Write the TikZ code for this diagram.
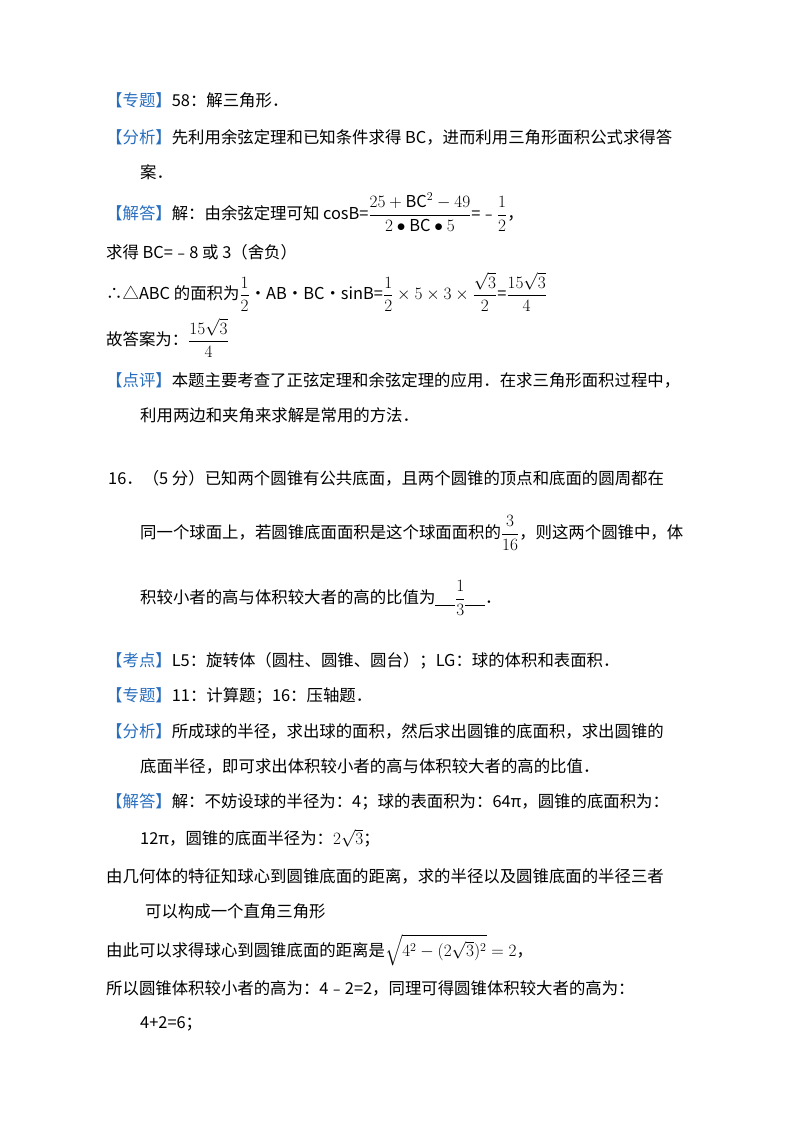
\documentclass[tikz,border=0pt]{standalone}
\usepackage{amsmath}
\usepackage{fontspec}
\setmainfont{Noto Sans CJK SC}
\definecolor{tagblue}{RGB}{40,110,190}
\newcommand\tg[1]{\textcolor{tagblue}{【#1】}}
\newcommand\blankline{\rule[-2pt]{1.2em}{0.6pt}}
\begin{document}
\begin{tikzpicture}[x=1pt,y=-1pt,every node/.style={anchor=west,inner sep=0pt,font=\fontsize{16.4}{19}\selectfont}]
\useasboundingbox (0,0) rectangle (800,1132);
\node (l1) at (106,100) {\tg{专题}58：解三角形．};
\node (l2) at (106,137) {\tg{分析}先利用余弦定理和已知条件求得 BC，进而利用三角形面积公式求得答};
\node (l3) at (140,172) {案．};
\node (l4) at (106,212) {\tg{解答}解：由余弦定理可知 cosB=$\dfrac{25+\mathrm{BC}^2-49}{2\bullet \mathrm{BC}\bullet 5}$=﹣$\dfrac{1}{2}$，};
\node (l5) at (106,252) {求得 BC=﹣8 或 3（舍负）};
\node (l6) at (106,292) {∴△ABC 的面积为$\dfrac12$•AB•BC•sinB=$\dfrac12\times5\times3\times\dfrac{\sqrt3}{2}$=$\dfrac{15\sqrt3}{4}$};
\node (l7) at (106,338) {故答案为：$\dfrac{15\sqrt3}{4}$};
\node (l8) at (106,380) {\tg{点评}本题主要考查了正弦定理和余弦定理的应用．在求三角形面积过程中，};
\node (l9) at (140,415) {利用两边和夹角来求解是常用的方法．};
\node (l10) at (108,478) {16．（5 分）已知两个圆锥有公共底面，且两个圆锥的顶点和底面的圆周都在};
\node (l11) at (140,533) {同一个球面上，若圆锥底面面积是这个球面面积的$\dfrac{3}{16}$，则这两个圆锥中，体};
\node (l12) at (140,598) {积较小者的高与体积较大者的高的比值为\blankline$\dfrac13$\blankline．};
\node (l13) at (106,661) {\tg{考点}L5：旋转体（圆柱、圆锥、圆台）；LG：球的体积和表面积．};
\node (l14) at (106,696) {\tg{专题}11：计算题；16：压轴题．};
\node (l15) at (106,731) {\tg{分析}所成球的半径，求出球的面积，然后求出圆锥的底面积，求出圆锥的};
\node (l16) at (140,766) {底面半径，即可求出体积较小者的高与体积较大者的高的比值．};
\node (l17) at (106,802) {\tg{解答}解：不妨设球的半径为：4；球的表面积为：64π，圆锥的底面积为：};
\node (l18) at (140,838) {12π，圆锥的底面半径为：$2\sqrt3$；};
\node (l19) at (106,876) {由几何体的特征知球心到圆锥底面的距离，求的半径以及圆锥底面的半径三者};
\node (l20) at (145,911) {可以构成一个直角三角形};
\node (l21) at (106,950) {由此可以求得球心到圆锥底面的距离是$\sqrt{4^2-(2\sqrt3)^2}=2$，};
\node (l22) at (106,988) {所以圆锥体积较小者的高为：4﹣2=2，同理可得圆锥体积较大者的高为：};
\node (l23) at (140,1024) {4+2=6；};
\end{tikzpicture}
\end{document}
